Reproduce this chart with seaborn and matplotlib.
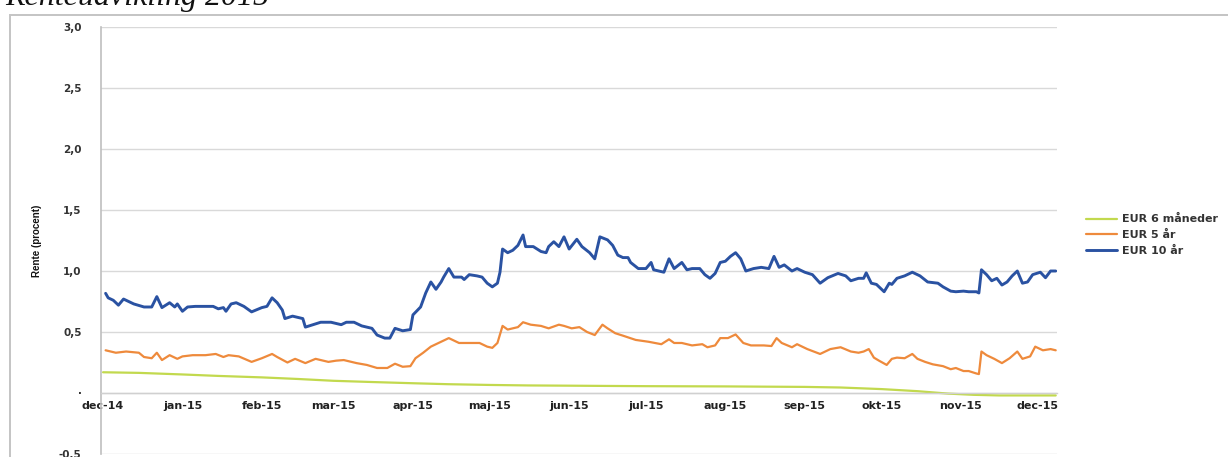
import numpy as np
import pandas as pd
import matplotlib
matplotlib.use("Agg")
import matplotlib.pyplot as plt
from matplotlib.patches import Rectangle
import seaborn as sns

# Series names and month tick labels
series_names = ["EUR 6 måneder", "EUR 5 år", "EUR 10 år"]
month_labels = ["dec-14", "jan-15", "feb-15", "mar-15", "apr-15", "maj-15", "jun-15",
                "jul-15", "aug-15", "sep-15", "okt-15", "nov-15", "dec-15"]
start_date = "2014-12-01"

# EUR 6 months (days since 1 Dec 2014, rate in percent)
short_day = [0, 14, 31, 45, 62, 76, 90, 105, 121, 135, 151, 166, 182, 196, 212, 227,
             243, 258, 274, 288, 304, 318, 330, 340, 350, 365, 372]
short_rate = [0.17, 0.165, 0.152, 0.14, 0.128, 0.115, 0.10, 0.09, 0.08, 0.072, 0.066,
              0.062, 0.06, 0.058, 0.056, 0.055, 0.054, 0.052, 0.05, 0.045, 0.032,
              0.015, -0.005, -0.015, -0.02, -0.02, -0.02]

# EUR 5 years
mid_day = [1, 5, 9, 14, 16, 19, 21, 23, 26, 29, 31, 35, 40, 44, 47, 49, 53, 58, 62, 66,
           68, 72, 75, 79, 83, 88, 91, 94, 99, 103, 107, 111, 114, 117, 120, 122, 125,
           128, 130, 133, 135, 139, 143, 147, 150, 152, 154, 156, 158, 162, 164, 167,
           171, 174, 178, 180, 183, 186, 189, 192, 195, 197, 200, 203, 208, 213, 218,
           221, 223, 226, 230, 234, 236, 239, 241, 244, 247, 250, 253, 258, 261, 263,
           265, 269, 271, 275, 280, 284, 288, 292, 295, 297, 299, 301, 303, 306, 308,
           310, 313, 316, 318, 321, 324, 328, 331, 333, 336, 338, 341, 342, 343, 345,
           348, 351, 354, 357, 359, 362, 364, 367, 370, 372]
mid_rate = [0.35, 0.33, 0.34, 0.33, 0.295, 0.285, 0.33, 0.27, 0.31, 0.28, 0.30, 0.31,
            0.31, 0.32, 0.295, 0.31, 0.30, 0.255, 0.285, 0.32, 0.295, 0.25, 0.28, 0.245,
            0.28, 0.255, 0.265, 0.27, 0.245, 0.23, 0.205, 0.205, 0.24, 0.215, 0.22,
            0.285, 0.33, 0.38, 0.40, 0.43, 0.45, 0.41, 0.41, 0.41, 0.38, 0.37, 0.41,
            0.55, 0.52, 0.54, 0.58, 0.56, 0.55, 0.53, 0.56, 0.55, 0.53, 0.54, 0.50,
            0.475, 0.56, 0.53, 0.49, 0.47, 0.435, 0.42, 0.40, 0.44, 0.41, 0.41, 0.39,
            0.40, 0.375, 0.39, 0.45, 0.45, 0.48, 0.41, 0.39, 0.39, 0.385, 0.45, 0.41,
            0.375, 0.40, 0.36, 0.32, 0.36, 0.375, 0.34, 0.33, 0.34, 0.36, 0.29, 0.265,
            0.23, 0.28, 0.29, 0.285, 0.32, 0.28, 0.255, 0.235, 0.22, 0.195, 0.205,
            0.18, 0.18, 0.16, 0.155, 0.34, 0.31, 0.28, 0.245, 0.285, 0.34, 0.28, 0.30,
            0.38, 0.35, 0.36, 0.35]

# EUR 10 years
long_day = [1, 2, 4, 6, 8, 10, 12, 16, 19, 21, 23, 26, 28, 29, 31, 33, 36, 40, 43, 45,
            47, 48, 50, 52, 55, 58, 62, 64, 66, 68, 70, 71, 74, 76, 78, 79, 82, 85, 89,
            93, 95, 98, 101, 105, 107, 110, 112, 114, 117, 120, 121, 124, 126, 128,
            130, 132, 133, 135, 137, 140, 141, 143, 146, 148, 150, 152, 154, 155, 156,
            158, 160, 162, 164, 165, 168, 171, 173, 174, 176, 178, 180, 182, 185, 187,
            190, 192, 194, 197, 199, 201, 203, 205, 206, 209, 212, 214, 215, 219, 221,
            223, 226, 228, 230, 233, 235, 237, 239, 241, 243, 245, 247, 249, 251, 254,
            257, 260, 262, 264, 266, 269, 271, 274, 277, 280, 283, 287, 290, 292, 295,
            297, 298, 300, 302, 305, 307, 308, 310, 313, 316, 319, 322, 326, 328, 331,
            333, 336, 338, 341, 342, 343, 345, 347, 349, 351, 353, 355, 357, 359, 361,
            363, 366, 368, 370, 372]
long_rate = [0.817, 0.78, 0.76, 0.72, 0.77, 0.75, 0.73, 0.705, 0.705, 0.79, 0.70, 0.74,
             0.705, 0.73, 0.67, 0.705, 0.71, 0.71, 0.71, 0.69, 0.70, 0.67, 0.73, 0.74,
             0.71, 0.665, 0.70, 0.71, 0.78, 0.74, 0.68, 0.61, 0.63, 0.62, 0.61, 0.54,
             0.56, 0.58, 0.58, 0.56, 0.58, 0.58, 0.55, 0.53, 0.475, 0.45, 0.45, 0.53,
             0.51, 0.52, 0.64, 0.705, 0.82, 0.91, 0.85, 0.91, 0.95, 1.02, 0.95, 0.95,
             0.93, 0.97, 0.96, 0.95, 0.90, 0.87, 0.90, 0.99, 1.18, 1.15, 1.17, 1.21,
             1.295, 1.20, 1.20, 1.16, 1.15, 1.20, 1.24, 1.20, 1.28, 1.18, 1.26, 1.20,
             1.15, 1.10, 1.28, 1.255, 1.21, 1.13, 1.11, 1.11, 1.07, 1.02, 1.02, 1.07,
             1.01, 0.99, 1.10, 1.02, 1.07, 1.01, 1.02, 1.02, 0.97, 0.94, 0.98, 1.07,
             1.08, 1.12, 1.15, 1.10, 1.00, 1.02, 1.03, 1.02, 1.12, 1.03, 1.05, 1.00,
             1.02, 0.99, 0.97, 0.90, 0.945, 0.98, 0.96, 0.92, 0.94, 0.94, 0.985, 0.90,
             0.89, 0.83, 0.90, 0.89, 0.94, 0.96, 0.99, 0.96, 0.91, 0.90, 0.87, 0.835,
             0.83, 0.835, 0.83, 0.83, 0.82, 1.01, 0.97, 0.92, 0.94, 0.885, 0.91, 0.96,
             1.00, 0.90, 0.91, 0.97, 0.99, 0.945, 1.00, 1.00]

colors = {"EUR 6 måneder": "#c2d94e", "EUR 5 år": "#ee8a3c", "EUR 10 år": "#2a52a2"}
widths = {"EUR 6 måneder": 1.6, "EUR 5 år": 1.6, "EUR 10 år": 2.1}

base = pd.Timestamp(start_date)
frames = []
for name, days, rates in zip(series_names,
                             [short_day, mid_day, long_day],
                             [short_rate, mid_rate, long_rate]):
    frames.append(pd.DataFrame({
        "dato": base + pd.to_timedelta(days, unit="D"),
        "rente": rates,
        "serie": name,
    }))
df = pd.concat(frames, ignore_index=True)

sns.set_style("white")
plt.rcParams["font.family"] = ["DejaVu Sans"]

fig = plt.figure(figsize=(12.28, 4.57), dpi=100)
ax = fig.add_axes([101 / 1228, 1 - 454 / 457, 956 / 1228, 427 / 457])

for name in series_names:
    sub = df[df["serie"] == name]
    sns.lineplot(data=sub, x="dato", y="rente", ax=ax, color=colors[name],
                 linewidth=widths[name], label=name, estimator=None)

# Axis limits and grid
ax.set_xlim(base - pd.Timedelta(days=0.8), base + pd.Timedelta(days=372.5))
ax.set_ylim(-0.5, 3.0)
yticks = [-0.5, 0.0, 0.5, 1.0, 1.5, 2.0, 2.5, 3.0]
ylabels = ["-0,5", "·", "0,5", "1,0", "1,5", "2,0", "2,5", "3,0"]
ax.set_yticks(yticks)
ax.set_yticklabels(ylabels)
ax.yaxis.grid(True, color="#d9d9d9", linewidth=1.0)
ax.xaxis.grid(False)
ax.set_axisbelow(True)

month_ticks = pd.date_range(start_date, periods=len(month_labels), freq="MS")
ax.set_xticks(month_ticks)
ax.set_xticklabels(month_labels)

for side in ["top", "right"]:
    ax.spines[side].set_visible(False)
ax.spines["left"].set_color("#bfbfbf")
ax.spines["left"].set_linewidth(1.2)
ax.spines["bottom"].set_position(("data", 0))
ax.spines["bottom"].set_color("#d0d0d0")
ax.spines["bottom"].set_linewidth(1.0)

ax.tick_params(axis="y", length=0, pad=14, labelsize=7.5, labelcolor="#333333")
ax.tick_params(axis="x", length=3, direction="inout", color="#b0b0b0",
               pad=4, labelsize=8, labelcolor="#222222")
for lbl in ax.get_yticklabels() + ax.get_xticklabels():
    lbl.set_fontweight("bold")

ax.set_xlabel("")
ax.set_ylabel("Rente (procent)", fontsize=7, fontweight="bold",
              family=["Liberation Sans", "DejaVu Sans"], color="#111111")
ax.yaxis.set_label_coords(-0.062, 0.5)

# Legend on the right
handles, labels = ax.get_legend_handles_labels()
leg = ax.legend(handles, labels, loc="center left",
                bbox_to_anchor=(1080 / 1228, 1 - 235 / 457),
                bbox_transform=fig.transFigure, frameon=False, borderpad=0,
                handlelength=2.8, handletextpad=0.5, labelspacing=0.5,
                prop={"size": 8, "weight": "bold"})
for t in leg.get_texts():
    t.set_color("#333333")

# Chart frame and heading
fig.patches.append(Rectangle((10 / 1228, -0.05), 1.1, 1 - 15 / 457 + 0.05,
                             transform=fig.transFigure, fill=False,
                             edgecolor="#c4c4c4", linewidth=1.4))
fig.text(5 / 1228, 1 - 5 / 457, "Renteudvikling 2015", fontsize=23, style="italic",
         family=["Liberation Serif", "DejaVu Serif"], va="baseline", ha="left",
         color="#111111")

fig.savefig("out.png", dpi=100)
